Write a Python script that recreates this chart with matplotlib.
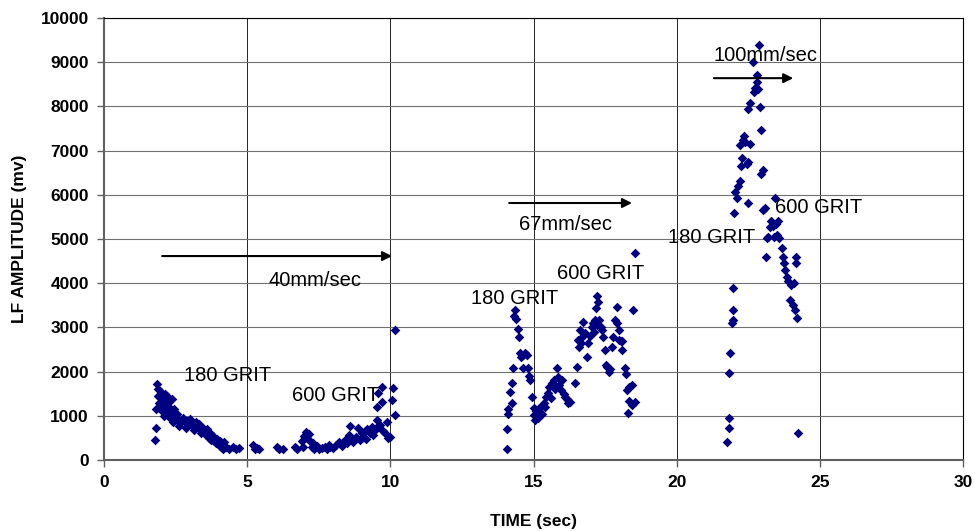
import matplotlib
matplotlib.use("Agg")
import matplotlib.pyplot as plt

plt.rcParams["font.family"] = ["Liberation Sans", "DejaVu Sans"]

# 40mm/sec run: 180 grit then 600 grit
x40 = [1.78, 1.80, 1.80, 1.86, 1.88, 1.90, 1.92, 1.95, 1.98, 2.00, 2.02, 2.05, 2.08, 2.10,
       2.12, 2.15, 2.20, 2.22, 2.25, 2.28, 2.30, 2.33, 2.36, 2.40, 2.42, 2.45, 2.50, 2.55,
       2.60, 2.62, 2.70, 2.75, 2.80, 2.85, 2.90, 2.95, 3.00, 3.05, 3.10, 3.15, 3.20, 3.25,
       3.30, 3.35, 3.40, 3.45, 3.50, 3.55, 3.60, 3.65, 3.70, 3.75, 3.80, 3.85, 3.90, 3.95,
       4.00, 4.05, 4.10, 4.15, 4.20, 4.25, 4.35, 4.50, 4.62, 4.70, 5.22, 5.28, 5.35, 5.42,
       6.03, 6.10, 6.26, 6.67, 6.75, 6.90, 6.95, 7.00, 7.05, 7.10, 7.15, 7.20, 7.25, 7.30,
       7.35, 7.45, 7.50, 7.60, 7.70, 7.80, 7.85, 7.90, 8.00, 8.10, 8.20, 8.30, 8.40, 8.50,
       8.55, 8.60, 8.65, 8.70, 8.80, 8.88, 8.95, 9.00, 9.05, 9.10, 9.15, 9.20, 9.30, 9.35,
       9.40, 9.45, 9.52, 9.55, 9.52, 9.58, 9.64, 9.70, 9.70, 9.75, 9.80, 9.87, 9.93, 10.05,
       10.10, 10.16, 10.16, 10.00]
y40 = [450, 730, 1150, 1730, 1600, 1450, 1300, 1200, 1550, 1400, 1100, 1250, 1350, 1000,
       1500, 1150, 1450, 1300, 1050, 1200, 950, 1100, 1380, 1000, 870, 1150, 950, 1050,
       880, 780, 850, 950, 900, 720, 880, 800, 920, 850, 780, 680, 850, 750,
       820, 700, 600, 720, 650, 560, 700, 500, 600, 460, 550, 420, 380, 480,
       350, 420, 300, 260, 400, 300, 250, 290, 250, 270, 330, 260, 280, 240,
       290, 250, 260, 290, 240, 420, 300, 550, 640, 500, 580, 420, 300, 380,
       260, 320, 250, 280, 300, 250, 350, 300, 280, 350, 400, 320, 450, 380,
       560, 780, 480, 400, 520, 720, 450, 600, 520, 650, 480, 700, 620, 750,
       560, 680, 900, 750, 1200, 1510, 790, 1660, 1320, 650, 600, 870, 490, 1360,
       1620, 1020, 2940, 520]

# 67mm/sec run
x67 = [14.07, 14.09, 14.10, 14.12, 14.18, 14.24, 14.24, 14.30, 14.33, 14.36, 14.38, 14.45,
       14.50, 14.53, 14.58, 14.62, 14.65, 14.70, 14.77, 14.80, 14.85, 14.88, 14.94, 15.00,
       15.02, 15.05, 15.10, 15.15, 15.20, 15.25, 15.30, 15.35, 15.40, 15.45, 15.50, 15.55,
       15.60, 15.65, 15.70, 15.75, 15.81, 15.86, 15.90, 15.95, 16.00, 16.05, 16.10, 16.17,
       16.22, 16.28, 16.45, 16.51, 16.56, 16.60, 16.63, 16.67, 16.70, 16.74, 16.80, 16.86,
       16.92, 16.98, 17.03, 17.09, 17.12, 17.15, 17.18, 17.20, 17.22, 17.25, 17.30, 17.35,
       17.40, 17.44, 17.50, 17.52, 17.56, 17.62, 17.66, 17.73, 17.79, 17.85, 17.90, 17.93,
       17.97, 18.00, 18.05, 18.08, 18.10, 18.20, 18.22, 18.25, 18.30, 18.32, 18.35, 18.43,
       18.45, 18.49, 18.55, 18.55]
y67 = [260, 700, 1050, 1150, 1550, 1290, 1740, 2090, 3250, 3390, 3180, 2960,
       2790, 2420, 2330, 2380, 2075, 2420, 2380, 2080, 1900, 1800, 1430, 1180,
       1020, 900, 1100, 950, 1180, 1200, 1050, 1300, 1200, 1420, 1520, 1650,
       1400, 1750, 1810, 1600, 2080, 1880, 1700, 1580, 1800, 1500, 1420, 1380,
       1290, 1320, 1740, 2110, 2710, 2550, 2940, 2650, 2790, 3130, 2870, 2340,
       2640, 2800, 3020, 3090, 2900, 3170, 3440, 3050, 3710, 3570, 3170, 3000,
       2940, 2790, 2490, 2150, 2110, 1990, 2050, 2560, 2790, 3170, 3470, 3100,
       2940, 2710, 2700, 2490, 2700, 2080, 1950, 1580, 1060, 1330, 1650, 1250,
       1700, 3390, 1320, 4690]

# 100mm/sec run
x100 = [21.77, 21.81, 21.81, 21.84, 21.86, 21.92, 21.95, 21.98, 21.98, 22.00, 22.05, 22.10,
        22.15, 22.20, 22.25, 22.27, 22.20, 22.30, 22.35, 22.40, 22.45, 22.50, 22.50, 22.50,
        22.56, 22.56, 22.68, 22.70, 22.75, 22.80, 22.82, 22.85, 22.89, 22.91, 22.94, 22.95,
        23.00, 23.02, 23.08, 23.12, 23.16, 23.20, 23.26, 23.30, 23.35, 23.40, 23.44, 23.46,
        23.50, 23.54, 23.58, 23.67, 23.70, 23.75, 23.80, 23.85, 23.90, 23.96, 24.00, 24.05,
        24.10, 24.12, 24.17, 24.17, 24.19, 24.22]
y100 = [415, 730, 950, 1960, 2410, 3100, 3170, 3390, 3900, 5580, 6060, 5920,
        6200, 6310, 6650, 6830, 7130, 7250, 7330, 7200, 6700, 6750, 5810, 7940,
        8080, 7150, 9010, 8330, 8420, 8560, 8710, 8400, 9390, 7990, 7470, 6470,
        6560, 5660, 5700, 4600, 5020, 5050, 5270, 5400, 5300, 5050, 5920, 5350,
        5100, 5410, 5020, 4800, 4600, 4450, 4300, 4150, 4050, 3620, 3960, 3500,
        4000, 3400, 4600, 4460, 3210, 620]

fig = plt.figure(figsize=(9.75, 5.31), dpi=100)
ax = fig.add_axes([0.1067, 0.1337, 0.8810, 0.8323])

for xs, ys in [(x40, y40), (x67, y67), (x100, y100)]:
    ax.scatter(xs, ys, marker="D", s=24, color="#000080", linewidths=0, zorder=3)

ax.set_xlim(0, 30)
ax.set_ylim(0, 10000)
ax.set_xticks(range(0, 31, 5))
ax.set_yticks(range(0, 10001, 1000))
ax.grid(True, axis="x", color="black", linewidth=0.6)
ax.grid(True, axis="y", color="#707070", linewidth=0.8)
ax.set_axisbelow(True)

for side in ["left", "bottom"]:
    ax.spines[side].set_color("#606060")
    ax.spines[side].set_linewidth(1.5)
for side in ["top", "right"]:
    ax.spines[side].set_color("black")
    ax.spines[side].set_linewidth(0.8)

ax.tick_params(axis="both", direction="out", length=5, width=1, color="#606060",
               labelsize=12.5, pad=6)
for lbl in ax.get_xticklabels() + ax.get_yticklabels():
    lbl.set_fontweight("bold")

ax.set_xlabel("TIME (sec)", fontsize=12.5, fontweight="bold", labelpad=17)
ax.set_ylabel("LF AMPLITUDE (mv)", fontsize=12.5, fontweight="bold", labelpad=10)

# annotations
txt = dict(fontsize=14.5, va="center", ha="left", zorder=4)
ax.text(2.8, 1920, "180 GRIT", **txt)
ax.text(6.57, 1450, "600 GRIT", **txt)
ax.text(5.73, 4070, "40mm/sec", **txt)
ax.text(12.82, 3665, "180 GRIT", **txt)
ax.text(15.82, 4210, "600 GRIT", **txt)
ax.text(14.5, 5340, "67mm/sec", **txt)
ax.text(21.3, 9160, "100mm/sec", **txt)
ax.text(19.7, 5045, "180 GRIT", **txt)
ax.text(23.44, 5720, "600 GRIT", **txt)

arrow = dict(arrowstyle="-|>", color="black", lw=1.5, mutation_scale=14, shrinkA=0, shrinkB=0)
ax.annotate("", xy=(10.06, 4615), xytext=(2.03, 4615), arrowprops=arrow)
ax.annotate("", xy=(18.44, 5815), xytext=(14.15, 5815), arrowprops=arrow)
ax.annotate("", xy=(24.07, 8640), xytext=(21.3, 8640), arrowprops=arrow)

fig.savefig("out.png", dpi=100)
